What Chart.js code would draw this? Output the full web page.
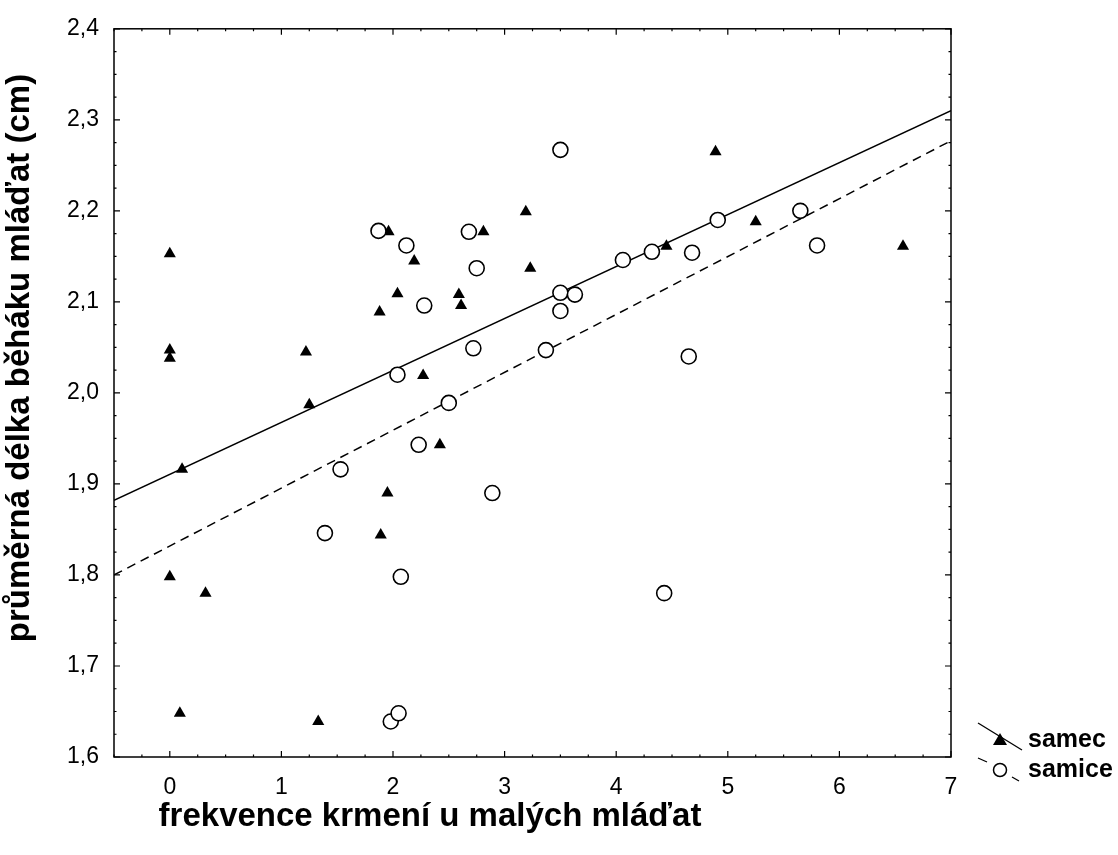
<!DOCTYPE html>
<html>
<head>
<meta charset="utf-8">
<title>samec / samice</title>
<script src="https://cdn.jsdelivr.net/npm/chart.js@4.4.1/dist/chart.umd.min.js"></script>
<style>
  html, body { margin: 0; padding: 0; background: #fff; }
  #wrap { width: 1118px; height: 855px; }
</style>
</head>
<body>
<div id="wrap"><canvas id="chart" width="1118" height="855"></canvas></div>
<script>
// data
var samecX = [0, 0, 0, 0, 0.11, 0.32, 0.09, 1.22, 1.25, 1.33, 1.88, 1.89, 1.95, 1.96, 2.04, 2.19, 2.27, 2.42, 2.59, 2.61, 2.81, 3.19, 3.23, 4.45, 4.89, 5.25, 6.57];
var samecY = [2.153, 2.047, 2.038, 1.798, 1.916, 1.780, 1.648, 2.045, 1.987, 1.639, 2.089, 1.844, 1.890, 2.177, 2.109, 2.145, 2.019, 1.943, 2.108, 2.096, 2.177, 2.199, 2.137, 2.161, 2.265, 2.188, 2.161];
var samiceX = [1.39, 1.53, 1.87, 1.98, 2.04, 2.05, 2.07, 2.12, 2.23, 2.28, 2.50, 2.68, 2.72, 2.75, 2.89, 3.37, 3.50, 3.50, 3.50, 3.63, 4.06, 4.32, 4.43, 4.65, 4.68, 4.91, 5.65, 5.80];
var samiceY = [1.846, 1.916, 2.178, 1.639, 2.020, 1.648, 1.798, 2.162, 1.943, 2.096, 1.989, 2.177, 2.049, 2.137, 1.890, 2.047, 2.267, 2.110, 2.090, 2.108, 2.146, 2.155, 1.780, 2.040, 2.154, 2.190, 2.200, 2.162];

// regression lines (end points)
var fitX = [-0.5, 7];
var samecFit = [1.882, 2.310];
var samiceFit = [1.800, 2.277];

var xTicks = [0, 1, 2, 3, 4, 5, 6, 7];
var yTicks = [1.6, 1.7, 1.8, 1.9, 2.0, 2.1, 2.2, 2.3, 2.4];

var xTitle = 'frekvence krmení u malých mláďat';
var yTitle = 'průměrná délka běháku mláďat (cm)';
var legendNames = ['samec', 'samice'];

function pts(xs, ys) {
    return xs.map(function (x, i) { return { x: x, y: ys[i] }; });
}

// box + inward ticks (major and minor) on all four sides
var frame = {
    id: 'frame',
    afterDraw: function (chart) {
        var c = chart.ctx, a = chart.chartArea;
        var xs = chart.scales.x, ys = chart.scales.y;
        c.save();
        c.strokeStyle = '#000';
        c.lineWidth = 1.5;
        c.strokeRect(a.left, a.top, a.right - a.left, a.bottom - a.top);
        c.lineWidth = 1.2;
        c.beginPath();
        for (var v = -0.5; v <= 7.001; v += 0.25) {
            var px = xs.getPixelForValue(v);
            var len = Math.abs(v - Math.round(v)) < 0.001 ? 6 : 2.5;
            c.moveTo(px, a.bottom); c.lineTo(px, a.bottom - len);
            c.moveTo(px, a.top); c.lineTo(px, a.top + len);
        }
        for (var k = 0; k <= 32; k++) {
            var w = 1.6 + k * 0.025;
            var py = ys.getPixelForValue(w);
            var l2 = k % 4 === 0 ? 6 : 2.5;
            c.moveTo(a.left, py); c.lineTo(a.left + l2, py);
            c.moveTo(a.right, py); c.lineTo(a.right - l2, py);
        }
        c.stroke();

        // axis titles
        c.fillStyle = '#000';
        c.font = 'bold 33px "Liberation Sans", Arial, sans-serif';
        c.textAlign = 'center';
        c.textBaseline = 'middle';
        c.fillText(xTitle, 430, 817);
        c.save();
        c.translate(20, 358);
        c.rotate(-Math.PI / 2);
        c.fillText(yTitle, 0, 0);
        c.restore();

        // legend
        c.font = 'bold 25px "Liberation Sans", Arial, sans-serif';
        var lx = 1000, rows = [740, 770];
        c.lineWidth = 1.3;
        c.beginPath();
        c.moveTo(lx - 22, rows[0] - 17); c.lineTo(lx + 22, rows[0] + 10);
        c.stroke();
        c.beginPath();
        c.moveTo(lx, rows[0] - 7); c.lineTo(lx + 7, rows[0] + 5); c.lineTo(lx - 7, rows[0] + 5);
        c.closePath(); c.fill();
        c.beginPath();
        c.moveTo(lx - 22, rows[1] - 12); c.lineTo(lx - 13, rows[1] - 8);
        c.moveTo(lx + 12, rows[1] + 7); c.lineTo(lx + 19, rows[1] + 11);
        c.stroke();
        c.beginPath();
        c.arc(lx, rows[1], 6.5, 0, Math.PI * 2);
        c.lineWidth = 1.5;
        c.stroke();
        c.textAlign = 'left';
        c.fillText(legendNames[0], lx + 28, rows[0]);
        c.fillText(legendNames[1], lx + 28, rows[1]);
        c.restore();
    }
};

var ctx = document.getElementById('chart').getContext('2d');
var chart = new Chart(ctx, {
    type: 'scatter',
    data: {
        datasets: [{
            label: legendNames[1],
            data: pts(samiceX, samiceY),
            pointStyle: 'circle',
            pointRadius: 7.5,
            pointBorderWidth: 1.6,
            pointBackgroundColor: '#fff',
            pointBorderColor: '#000',
            order: 1
        }, {
            label: legendNames[0],
            data: pts(samecX, samecY),
            pointStyle: 'triangle',
            pointRadius: 7,
            pointBorderWidth: 0,
            pointBackgroundColor: '#000',
            pointBorderColor: '#000',
            order: 2
        }, {
            type: 'line',
            label: 'fit samec',
            data: pts(fitX, samecFit),
            borderColor: '#000',
            borderWidth: 1.5,
            pointRadius: 0,
            fill: false,
            order: 3
        }, {
            type: 'line',
            label: 'fit samice',
            data: pts(fitX, samiceFit),
            borderColor: '#000',
            borderWidth: 1.5,
            borderDash: [9, 6],
            pointRadius: 0,
            fill: false,
            order: 3
        }]
    },
    options: {
        responsive: false,
        animation: false,
        layout: { padding: { top: 23, right: 167, left: 0, bottom: 0 } },
        plugins: { legend: { display: false }, tooltip: { enabled: false } },
        scales: {
            x: {
                type: 'linear',
                min: -0.5,
                max: 7,
                afterBuildTicks: function (s) { s.ticks = xTicks.map(function (v) { return { value: v }; }); },
                afterFit: function (s) { s.height = 98; },
                grid: { display: false, drawTicks: false },
                border: { display: false },
                ticks: {
                    color: '#000',
                    padding: 17,
                    maxRotation: 0,
                    font: { family: '"Liberation Sans", Arial, sans-serif', size: 23 }
                }
            },
            y: {
                type: 'linear',
                min: 1.6,
                max: 2.4,
                afterBuildTicks: function (s) { s.ticks = yTicks.map(function (v) { return { value: v }; }); },
                afterFit: function (s) { s.width = 114; },
                grid: { display: false, drawTicks: false },
                border: { display: false },
                ticks: {
                    color: '#000',
                    padding: 15,
                    font: { family: '"Liberation Sans", Arial, sans-serif', size: 23 },
                    callback: function (v) { return v.toFixed(1).replace('.', ','); }
                }
            }
        }
    },
    plugins: [frame]
});
</script>
</body>
</html>
